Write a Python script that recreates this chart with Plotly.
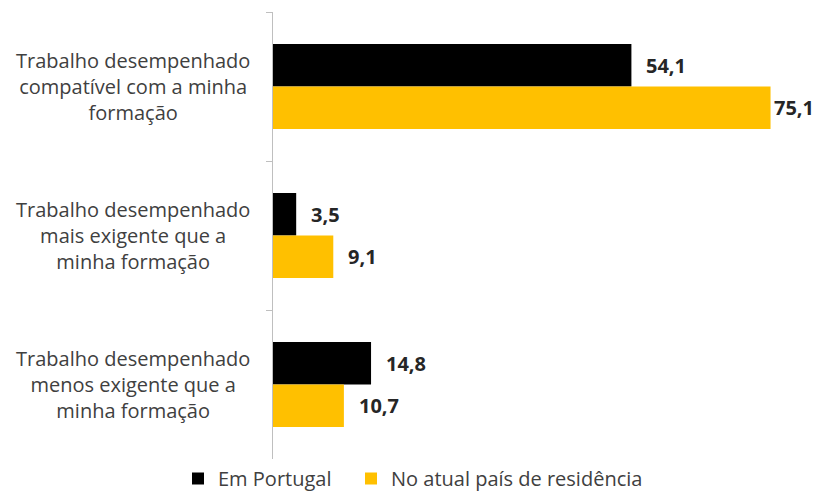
import plotly.graph_objects as go

categories = [
    "Trabalho desempenhado<br>compatível com a minha<br>formação",
    "Trabalho desempenhado<br>mais exigente que a<br>minha formação",
    "Trabalho desempenhado<br>menos exigente que a<br>minha formação",
]
cat_ids = ["c1", "c2", "c3"]
series_names = ["Em Portugal", "No atual país de residência"]
em_portugal = [54.1, 3.5, 14.8]
atual_pais = [75.1, 9.1, 10.7]
colors = ["#000000", "#FFC000"]

X_MAX = 80
BARGAP = 0.43
legend_ids = ["legend", "legend2"]
legend_x = [178, 351]

fig = go.Figure()
for name, vals, col, lg in zip(series_names, [em_portugal, atual_pais], colors, legend_ids):
    fig.add_trace(go.Bar(
        y=cat_ids, x=vals, name=name, orientation="h", legend=lg,
        marker=dict(color=col, line=dict(width=0)),
    ))

half = (1 - BARGAP) / 4
annotations = []
# value labels
for ti, vals in enumerate([em_portugal, atual_pais]):
    for ci, v in enumerate(vals):
        yoff = -half if ti == 0 else half
        shift = 13 if v < 70 else 1
        annotations.append(dict(
            x=v, y=ci + yoff, xref="x", yref="y",
            text=f"{v:.1f}".replace(".", ","), showarrow=False,
            xanchor="left", yanchor="middle", xshift=shift,
            font=dict(family="Open Sans", size=20, color="#262626", weight="bold"),
        ))
# category labels
for ci, c in enumerate(categories):
    annotations.append(dict(
        x=-0.04, y=ci, xref="paper", yref="y", text=c, showarrow=False,
        xanchor="right", yanchor="middle", align="center",
        font=dict(family="Open Sans", size=20, color="#404040"),
    ))

legend_style = dict(orientation="h", xref="container", yref="container",
                    xanchor="left", y=1 - 459 / 492, yanchor="top",
                    font=dict(family="Open Sans", size=20, color="#404040"),
                    itemwidth=30, bgcolor="rgba(0,0,0,0)")

fig.update_layout(
    width=817, height=492,
    margin=dict(l=273, r=14, t=12, b=33, autoexpand=False),
    paper_bgcolor="white", plot_bgcolor="white",
    barmode="group", bargap=BARGAP, bargroupgap=0,
    showlegend=True,
    legend=dict(x=legend_x[0] / 817, **legend_style),
    legend2=dict(x=legend_x[1] / 817, **legend_style),
    xaxis=dict(range=[0, X_MAX], visible=False, showgrid=False, zeroline=False),
    yaxis=dict(type="category", categoryorder="array", categoryarray=cat_ids,
               autorange="reversed", showticklabels=False,
               showline=True, linecolor="#BFBFBF", linewidth=1,
               ticks="outside", tickson="boundaries", ticklen=6, tickcolor="#BFBFBF",
               showgrid=False, zeroline=False),
    annotations=annotations,
)
fig.write_html("out.html", config={"displayModeBar": False},
               post_script="document.body.style.margin='0';document.body.style.overflow='hidden';")
